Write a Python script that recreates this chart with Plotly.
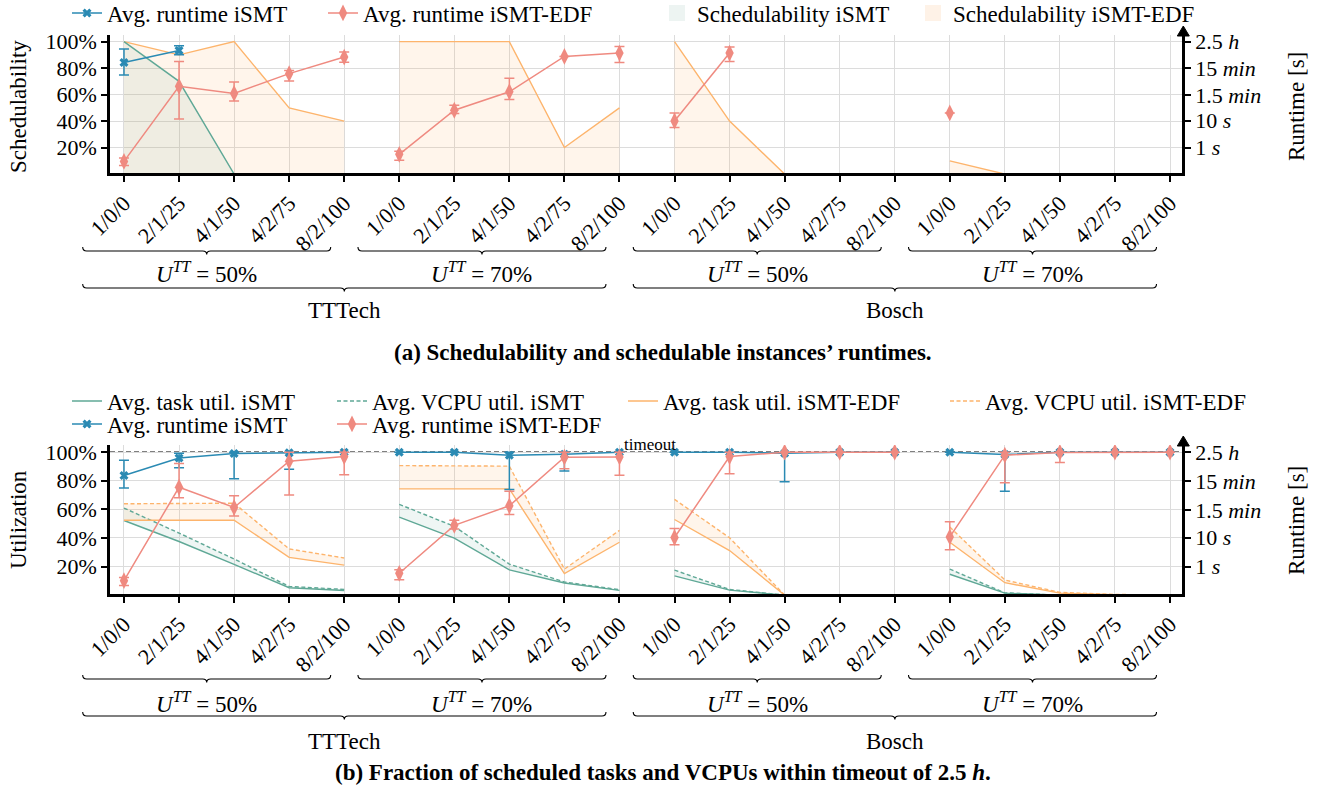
import math
import plotly.graph_objects as go

W, H = 1327, 793

# ---------------- data ----------------
categories = ["1/0/0", "2/1/25", "4/1/50", "4/2/75", "8/2/100"]
group_labels = ["<i>U</i><sup><i>TT</i></sup> = 50%", "<i>U</i><sup><i>TT</i></sup> = 70%",
                "<i>U</i><sup><i>TT</i></sup> = 50%", "<i>U</i><sup><i>TT</i></sup> = 70%"]
datasets = ["TTTech", "Bosch"]

# (a) schedulability [%]
sched_ismt = [100, 70, 0, 0, 0, 0, 0, 0, 0, 0, 0, 0, 0, 0, 0, 0, 0, 0, 0, 0]
sched_edf = [100, 90, 100, 50, 40, 100, 100, 100, 20, 50, 100, 40, 0, 0, 0, 10, 0, 0, 0, 0]

# (a) runtime of schedulable instances [s]: mean, upper, lower
rt_sched_ismt = [1493, 4227, None, None, None] + [None] * 15
rt_sched_ismt_hi = [4770, 6350, None, None, None] + [None] * 15
rt_sched_ismt_lo = [514, 2910, None, None, None] + [None] * 15

rt_sched_edf = [0.305, 193, 105, 575, 2384, 0.56, 24.7, 121, 2512, 3373,
                9.8, 3373, None, None, None, 19.6, None, None, None, None]
rt_sched_edf_hi = [0.41, 1629, 280, 746, 3675, 0.726, 38, 386, None, 5980,
                   19.6, 5660, None, None, None, None, None, None, None, None]
rt_sched_edf_lo = [0.216, 11.6, 55, 305, 1545, 0.333, 18.6, 62, None, 1493,
                   5.66, 1629, None, None, None, None, None, None, None, None]

# (b) utilization [%]
task_ismt = [52.2, 37.5, 21.5, 5.2, 3.3, 54.5, 39.9, 17.7, 8.5, 3.3,
             13.5, 3.5, 0, 0, 0, 14.6, 1.4, 0, 0, 0]
vcpu_ismt = [60.9, 43.4, 25.3, 6.1, 4.0, 63.5, 48.1, 21.7, 9.2, 3.8,
             17.5, 4.0, 0, 0, 0, 18.2, 1.6, 0, 0, 0]
task_edf = [52.4, 52.4, 52.4, 26.4, 21.0, 74.3, 74.3, 74.3, 15.1, 37.0,
            52.9, 31.2, 0, 0, 0, 37.0, 8.7, 1.4, 0.3, 0]
vcpu_edf = [63.9, 63.9, 64.3, 32.3, 26.0, 90.6, 90.6, 90.2, 18.2, 45.3,
            67.0, 40.1, 0, 0, 0, 47.7, 10.6, 1.9, 0.5, 0]

# (b) runtime of all instances [s]
rt_all_ismt = [1409, 5680, 8090, 8500, 8900, 9000, 9000, 7060, 7650, 9000,
               9000, 9000, 8300, 9000, 9000, 9000, 7470, 9000, 9000, 9000]
rt_all_ismt_hi = [4720, 8300, 9000, 9000, None, None, None, 9000, 9000, None,
                  None, None, 9000, None, None, None, 9000, None, None, None]
rt_all_ismt_lo = [523, 2620, 1081, 2286, None, None, None, 456, 1995, None,
                  None, None, 848, None, None, None, 398, None, None, None]

rt_all_edf = [0.324, 550, 110, 4355, 6350, 0.585, 26.5, 126, 6010, 6170,
              10.1, 6350, 9000, 9000, 9000, 10.6, 7060, 8770, 9000, 9000]
rt_all_edf_hi = [0.42, 3615, 281, 9000, 9000, 0.77, 39.7, 398, 9000, 9000,
                 20.8, 9000, None, None, None, 35.5, 9000, 9000, None, None]
rt_all_edf_lo = [0.222, 239, 56, 298, 1493, 0.35, 19.7, 62.5, 2418, 1445,
                 5.7, 1615, None, None, None, 3.8, 782, 3917, None, None]

timeout_s = 9000
pct_ticks = [20, 40, 60, 80, 100]
pct_text = ["20%", "40%", "60%", "80%", "100%"]
rt_ticks = [1, 10, 90, 900, 9000]
rt_text = ["1 <i>s</i>", "10 <i>s</i>", "1.5 <i>min</i>", "15 <i>min</i>", "2.5 <i>h</i>"]

# ---------------- style ----------------
FONT = "Liberation Serif"
FS = 22          # tick labels
FL = 23          # legend / labels
teal = "#5fa896"
blue = "#2a8ab3"
salmon = "#ef8a80"
orange = "#fdb46c"
teal_fill = "rgba(95,168,150,0.10)"
orange_fill = "rgba(253,170,90,0.12)"
grid = "#dcdcdc"

n_per = len(categories)
n_groups = len(group_labels)
x_idx = list(range(n_per * n_groups))
tick_text = categories * n_groups

PLOT_L, PLOT_R = 110, 1182
TOP_T, TOP_B = 35, 173
BOT_T, BOT_B = 445, 594
XMIN, XMAX = -0.254, 19.218
YMIN, YMAX = 0.8, 105.0
L1 = math.log10(timeout_s)
L0 = -0.25 * L1
SPAN = L1 - L0
sec_range = [L0 + YMIN / 100 * SPAN, L0 + YMAX / 100 * SPAN]
timeout_pct = (math.log10(timeout_s) - L0) / SPAN * 100


def X(px):
    return px / W


def Y(py):
    return 1 - py / H


def idx_px(i):
    return PLOT_L + (i - XMIN) / (XMAX - XMIN) * (PLOT_R - PLOT_L)


def seg(arr, g):
    return arr[n_per * g:n_per * (g + 1)]


def errs(mean, hi, lo):
    plus, minus = [], []
    for m, h, l in zip(mean, hi, lo):
        plus.append(h - m if (m is not None and h is not None) else None)
        minus.append(m - l if (m is not None and l is not None) else None)
    return plus, minus


fig = go.Figure()

# ---------------- panel (a) ----------------
for g in range(n_groups):
    fig.add_trace(go.Scatter(x=seg(x_idx, g), y=seg(sched_edf, g), mode="lines",
                             line=dict(color=orange, width=1.4), fill="tozeroy",
                             fillcolor=orange_fill, showlegend=False,
                             xaxis="x", yaxis="y", hoverinfo="skip"))
for g in range(n_groups):
    fig.add_trace(go.Scatter(x=seg(x_idx, g), y=seg(sched_ismt, g), mode="lines",
                             line=dict(color=teal, width=1.4), fill="tozeroy",
                             fillcolor=teal_fill, showlegend=False,
                             xaxis="x", yaxis="y", hoverinfo="skip"))

# legend patches for schedulability
fig.add_trace(go.Scatter(x=[None], y=[None], mode="markers", name="Schedulability iSMT",
                         marker=dict(symbol="square", size=16, color="rgb(237,244,242)"),
                         legend="legend2", legendwidth=211, legendrank=1, xaxis="x", yaxis="y"))
fig.add_trace(go.Scatter(x=[None], y=[None], mode="markers", name="Schedulability iSMT-EDF",
                         marker=dict(symbol="square", size=16, color="rgb(254,242,231)"),
                         legend="legend2", legendrank=2, xaxis="x", yaxis="y"))


def runtime_traces(mean, hi, lo, color, symbol, size, name, legend, xa, ya, rank, lw=None):
    plus, minus = errs(mean, hi, lo)
    for g in range(n_groups):
        kw = dict(legendwidth=lw) if lw else {}
        fig.add_trace(go.Scatter(
            x=seg(x_idx, g), y=seg(mean, g), mode="lines+markers",
            line=dict(color=color, width=1.5),
            marker=dict(symbol=symbol, size=size, color=color),
            error_y=dict(type="data", symmetric=False, array=seg(plus, g),
                         arrayminus=seg(minus, g), color=color, thickness=1.5, width=5),
            name=name, showlegend=(g == 0), legend=legend, legendrank=rank,
            xaxis=xa, yaxis=ya, hoverinfo="skip", **kw))


runtime_traces(rt_sched_ismt, rt_sched_ismt_hi, rt_sched_ismt_lo, blue, "x", 8,
               "Avg. runtime iSMT", "legend", "x", "y2", 1, lw=211)
runtime_traces(rt_sched_edf, rt_sched_edf_hi, rt_sched_edf_lo, salmon, "diamond-tall", 12,
               "Avg. runtime iSMT-EDF", "legend", "x", "y2", 2)

# ---------------- panel (b) ----------------
for g in range(n_groups):
    for lo_s, hi_s, fc in ((task_ismt, vcpu_ismt, teal_fill), (task_edf, vcpu_edf, orange_fill)):
        fig.add_trace(go.Scatter(x=seg(x_idx, g), y=seg(lo_s, g), mode="lines",
                                 line=dict(width=0), showlegend=False,
                                 xaxis="x2", yaxis="y3", hoverinfo="skip"))
        fig.add_trace(go.Scatter(x=seg(x_idx, g), y=seg(hi_s, g), mode="lines",
                                 line=dict(width=0), fill="tonexty", fillcolor=fc,
                                 showlegend=False, xaxis="x2", yaxis="y3", hoverinfo="skip"))

util_series = [
    (task_ismt, teal, "solid", "Avg. task util. iSMT", 220),
    (vcpu_ismt, teal, "4px,2.5px", "Avg. VCPU util. iSMT", 246),
    (task_edf, orange, "solid", "Avg. task util. iSMT-EDF", 277),
    (vcpu_edf, orange, "4px,2.5px", "Avg. VCPU util. iSMT-EDF", None),
]
for g in range(n_groups):
    for k, (arr, col, dash, name, lw) in enumerate(util_series):
        kw = dict(legendwidth=lw) if lw else {}
        fig.add_trace(go.Scatter(x=seg(x_idx, g), y=seg(arr, g), mode="lines",
                                 line=dict(color=col, width=1.4, dash=dash),
                                 name=name, showlegend=(g == 0), legend="legend3",
                                 legendrank=k + 1, xaxis="x2", yaxis="y3",
                                 hoverinfo="skip", **kw))

runtime_traces(rt_all_ismt, rt_all_ismt_hi, rt_all_ismt_lo, blue, "x", 8,
               "Avg. runtime iSMT", "legend4", "x2", "y4", 1, lw=220)
runtime_traces(rt_all_edf, rt_all_edf_hi, rt_all_edf_lo, salmon, "diamond-tall", 12,
               "Avg. runtime iSMT-EDF", "legend4", "x2", "y4", 2)

# ---------------- axes ----------------
tickfont = dict(family=FONT, size=FS, color="black")
xcommon = dict(domain=[X(PLOT_L), X(PLOT_R)], range=[XMIN, XMAX], tickmode="array",
               tickvals=x_idx, ticktext=tick_text, tickangle=-45, ticks="outside",
               ticklen=6, tickwidth=2, tickcolor="black", showline=True, linewidth=2.5,
               linecolor="black", showgrid=True, gridcolor=grid, gridwidth=1,
               zeroline=False, tickfont=tickfont, fixedrange=True, automargin=False)
ycommon = dict(range=[YMIN, YMAX], tickmode="array", tickvals=pct_ticks, ticktext=pct_text,
               ticks="outside", ticklen=6, tickwidth=2, tickcolor="black", showline=True,
               linewidth=2.5, linecolor="black", showgrid=True, gridcolor=grid,
               gridwidth=1, zeroline=False, tickfont=tickfont, automargin=False)
y2common = dict(type="log", range=sec_range, side="right", tickmode="array",
                tickvals=rt_ticks, ticktext=rt_text, ticks="outside", ticklen=6,
                tickwidth=2, tickcolor="black", showline=True, linewidth=2.5,
                linecolor="black", showgrid=False, zeroline=False, tickfont=tickfont,
                automargin=False)

legend_common = dict(orientation="h", xanchor="left", yanchor="middle",
                     bgcolor="rgba(0,0,0,0)", borderwidth=0, traceorder="normal",
                     font=dict(family=FONT, size=FL, color="black"))

fig.update_layout(
    width=W, height=H, margin=dict(l=0, r=0, t=0, b=0, autoexpand=False),
    paper_bgcolor="white", plot_bgcolor="white", hovermode=False,
    font=dict(family=FONT, size=FS, color="black"),
    xaxis=dict(anchor="y", **xcommon),
    xaxis2=dict(anchor="y3", **xcommon),
    yaxis=dict(domain=[Y(TOP_B), Y(TOP_T)], anchor="x", **ycommon),
    yaxis2=dict(overlaying="y", anchor="x", **y2common),
    yaxis3=dict(domain=[Y(BOT_B), Y(BOT_T)], anchor="x2", **ycommon),
    yaxis4=dict(overlaying="y3", anchor="x2", **y2common),
    legend=dict(x=X(67), y=Y(13), **legend_common),
    legend2=dict(x=X(657), y=Y(13), **legend_common),
    legend3=dict(x=X(67), y=Y(401), **legend_common),
    legend4=dict(x=X(67), y=Y(424), **legend_common),
)

shapes = []
annotations = []


def label(text, xp, yp, size=FL, angle=0):
    annotations.append(dict(text=text, xref="paper", yref="paper", x=X(xp), y=Y(yp),
                            xanchor="center", yanchor="middle", textangle=angle,
                            showarrow=False, font=dict(family=FONT, size=size, color="black")))


# timeout line (2.5 h == 100 % level of the shared scale)
shapes.append(dict(type="line", xref="x2 domain", x0=0, x1=1, yref="y3",
                   y0=timeout_pct, y1=timeout_pct,
                   line=dict(color="black", width=1.3, dash="5px,3px"), layer="below"))
label("timeout", 650, 445, size=17)

# arrow heads on right spines
for top in (TOP_T, BOT_T):
    xc = PLOT_R + 1.3
    shapes.append(dict(type="path", xref="paper", yref="paper",
                       path=f"M {X(xc)},{Y(top - 9)} L {X(xc - 6)},{Y(top + 1)} L {X(xc + 6)},{Y(top + 1)} Z",
                       fillcolor="black", line=dict(color="black", width=1)))


def brace_path(i0, i1, yline, curl=4.0, r=4.0, tip=3.5):
    xl = idx_px(i0 - 0.75)
    xr = idx_px(i1 - 0.245)
    xm = (xl + xr) / 2
    p = (f"M {X(xl)},{Y(yline - curl)} Q {X(xl)},{Y(yline)} {X(xl + r)},{Y(yline)} "
         f"L {X(xm - r)},{Y(yline)} Q {X(xm)},{Y(yline)} {X(xm)},{Y(yline + tip)} "
         f"Q {X(xm)},{Y(yline)} {X(xm + r)},{Y(yline)} L {X(xr - r)},{Y(yline)} "
         f"Q {X(xr)},{Y(yline)} {X(xr)},{Y(yline - curl)}")
    return p, xm


panel_rows = [
    # (row1 brace y, group label y, row2 brace y, dataset label y, caption y, caption)
    (251, 273, 288, 311, 352, "<b>(a) Schedulability and schedulable instances’ runtimes.</b>"),
    (679, 702, 716, 741, 772, "<b>(b) Fraction of scheduled tasks and VCPUs within timeout of 2.5 <i>h</i>.</b>"),
]
for (yb1, yl1, yb2, yl2, yc, cap) in panel_rows:
    for g in range(n_groups):
        p, xm = brace_path(n_per * g, n_per * g + n_per - 1, yb1)
        shapes.append(dict(type="path", xref="paper", yref="paper", path=p,
                           line=dict(color="black", width=1.1)))
        label(group_labels[g], xm, yl1)
    for d in range(len(datasets)):
        i0 = 2 * n_per * d
        p, xm = brace_path(i0, i0 + 2 * n_per - 1, yb2)
        shapes.append(dict(type="path", xref="paper", yref="paper", path=p,
                           line=dict(color="black", width=1.1)))
        label(datasets[d], xm, yl2)
    label(cap, 663, yc, size=23)

# axis titles
for (txt, xp, yp) in (("Schedulability", 18, 107), ("Runtime [s]", 1296, 107),
                      ("Utilization", 18, 520), ("Runtime [s]", 1296, 521)):
    label(txt, xp, yp, angle=-90)

fig.update_layout(shapes=shapes, annotations=annotations)
fig.write_html("out.html", config={"displayModeBar": False},
               post_script="document.body.style.margin='0';document.body.style.overflow='hidden';")
